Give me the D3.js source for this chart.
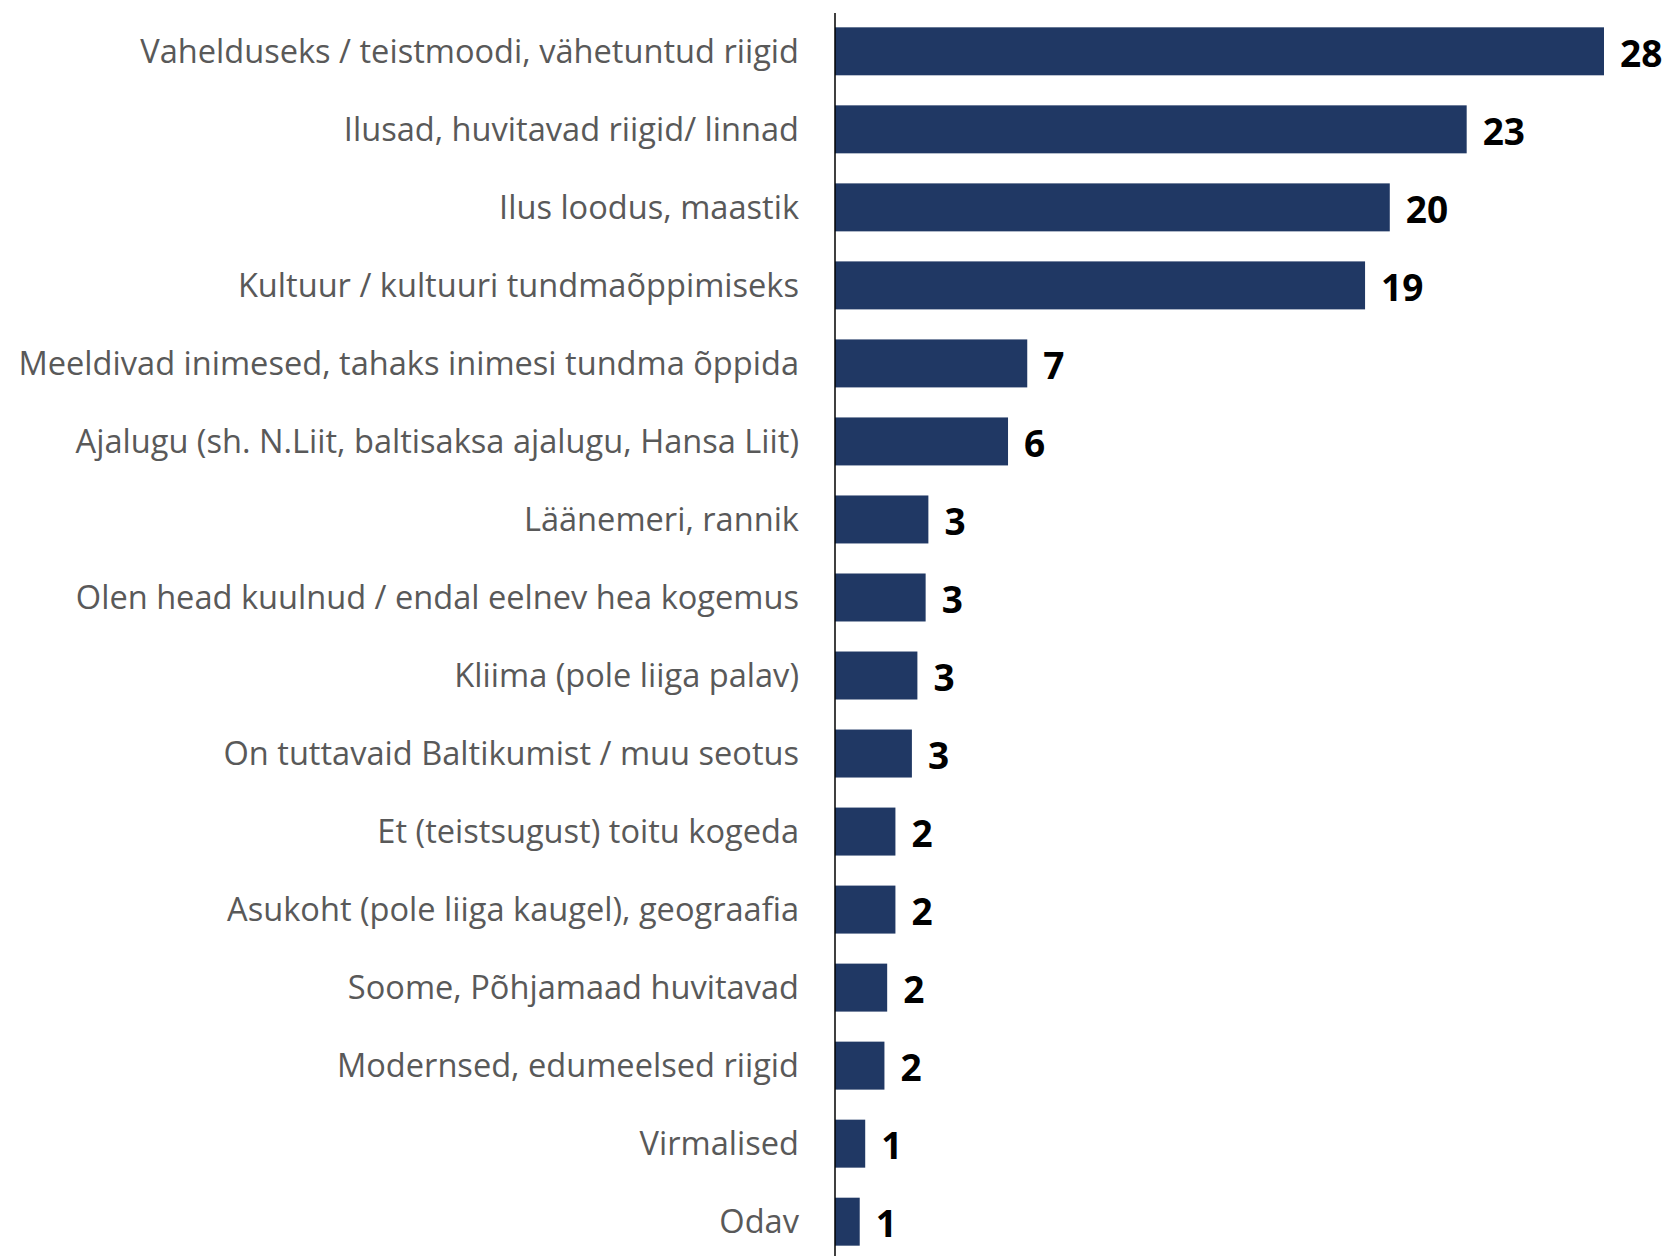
<!DOCTYPE html>
<html>
<head>
<meta charset="utf-8">
<script src="https://cdn.jsdelivr.net/npm/d3@7"></script>
<style>
  body { margin: 0; background: #fff; }
  .cat-label { font-family: "Open Sans", sans-serif; font-size: 32.6px; fill: #595959; }
  .val-label { font-family: "Open Sans", sans-serif; font-size: 37px; font-weight: bold; fill: #000; }
</style>
</head>
<body>
<svg id="chart" width="1668" height="1256"></svg>
<script>
const categories = [
  "Vahelduseks / teistmoodi, vähetuntud riigid",
  "Ilusad, huvitavad riigid/ linnad",
  "Ilus loodus, maastik",
  "Kultuur / kultuuri tundmaõppimiseks",
  "Meeldivad inimesed, tahaks inimesi tundma õppida",
  "Ajalugu (sh. N.Liit, baltisaksa ajalugu, Hansa Liit)",
  "Läänemeri, rannik",
  "Olen head kuulnud / endal eelnev hea kogemus",
  "Kliima (pole liiga palav)",
  "On tuttavaid Baltikumist / muu seotus",
  "Et (teistsugust) toitu kogeda",
  "Asukoht (pole liiga kaugel), geograafia",
  "Soome, Põhjamaad huvitavad",
  "Modernsed, edumeelsed riigid",
  "Virmalised",
  "Odav"
];
const values = [28.0, 23.0, 20.2, 19.3, 7.0, 6.3, 3.4, 3.3, 3.0, 2.8, 2.2, 2.2, 1.9, 1.8, 1.1, 0.9];

const svg = d3.select("#chart");
const axisX = 835;

const x = d3.scaleLinear()
  .domain([0, 28])
  .range([axisX, 1604]);

const y = d3.scaleBand()
  .domain(categories)
  .range([12.5, 12.5 + 78 * categories.length])
  .paddingInner(0.385)
  .paddingOuter(0.19);

const fmt = d3.format(".0f");

svg.append("g")
  .selectAll("rect")
  .data(categories)
  .enter()
  .append("rect")
  .attr("x", x(0))
  .attr("y", d => y(d))
  .attr("width", (d, i) => x(values[i]) - x(0))
  .attr("height", y.bandwidth())
  .attr("fill", "#203864");

svg.append("g")
  .selectAll("text")
  .data(categories)
  .enter()
  .append("text")
  .attr("class", "cat-label")
  .attr("x", axisX - 36)
  .attr("y", d => y(d) + y.bandwidth() / 2 - 1)
  .attr("text-anchor", "end")
  .attr("dominant-baseline", "central")
  .text(d => d);

svg.append("g")
  .selectAll("text")
  .data(categories)
  .enter()
  .append("text")
  .attr("class", "val-label")
  .attr("x", (d, i) => x(values[i]) + 16)
  .attr("y", d => y(d) + y.bandwidth() / 2 + 1)
  .attr("dominant-baseline", "central")
  .text((d, i) => fmt(values[i]));

svg.append("line")
  .attr("x1", axisX)
  .attr("x2", axisX)
  .attr("y1", 13)
  .attr("y2", 1256)
  .attr("stroke", "#000")
  .attr("stroke-width", 1.5);
</script>
</body>
</html>
